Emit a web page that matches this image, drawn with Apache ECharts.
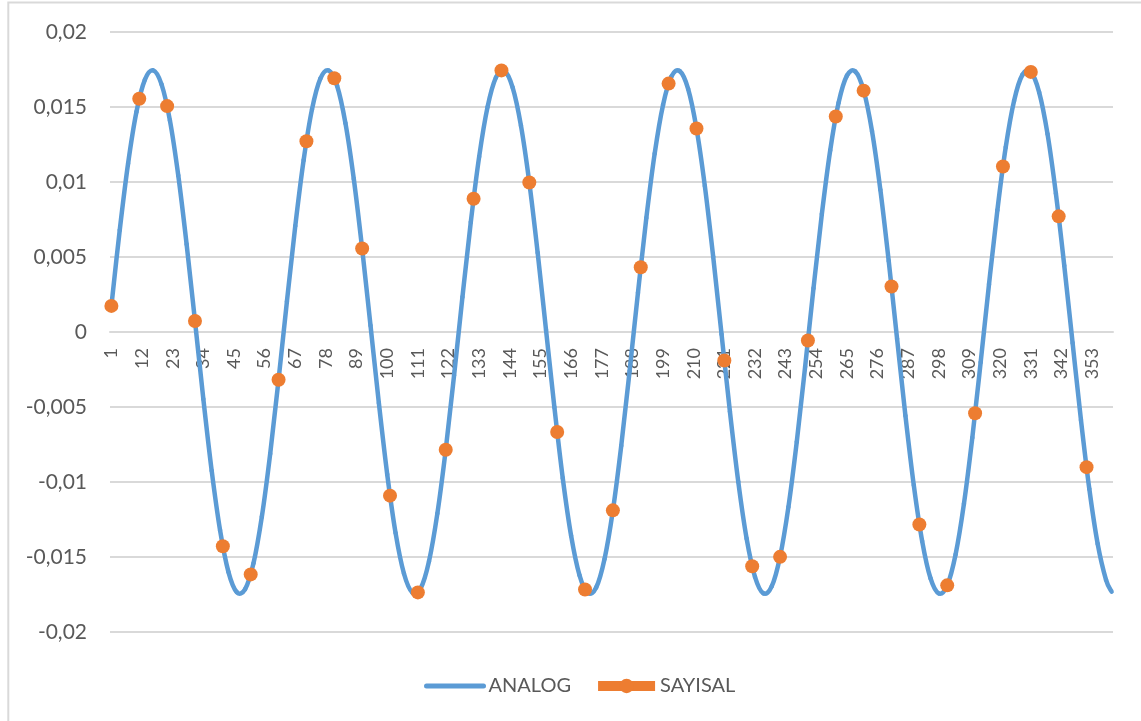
<!DOCTYPE html>
<html>
<head>
<meta charset="utf-8">
<script src="https://cdn.jsdelivr.net/npm/echarts@6/dist/echarts.min.js"></script>
<style>
  html, body { margin: 0; padding: 0; background: #ffffff; }
  #chart { width: 1141px; height: 721px; }
</style>
</head>
<body>
<div id="chart"></div>
<script>
// Sample index along the horizontal axis: 1 .. 360
const categories = [];
for (let i = 1; i <= 360; i++) categories.push(String(i));

// ANALOG curve, read every third sample (and the last one)
const analogCategories = [
  1, 4, 7, 10, 13, 16, 19, 22, 25, 28, 31, 34, 37, 40, 43, 46, 49, 52, 55, 58,
  61, 64, 67, 70, 73, 76, 79, 82, 85, 88, 91, 94, 97, 100, 103, 106, 109, 112, 115, 118,
  121, 124, 127, 130, 133, 136, 139, 142, 145, 148, 151, 154, 157, 160, 163, 166, 169, 172, 175, 178,
  181, 184, 187, 190, 193, 196, 199, 202, 205, 208, 211, 214, 217, 220, 223, 226, 229, 232, 235, 238,
  241, 244, 247, 250, 253, 256, 259, 262, 265, 268, 271, 274, 277, 280, 283, 286, 289, 292, 295, 298,
  301, 304, 307, 310, 313, 316, 319, 322, 325, 328, 331, 334, 337, 340, 343, 346, 349, 352, 355, 358,
  360
];
const analogValues = [
  0.00174, 0.00680, 0.01124, 0.01468, 0.01681, 0.01744, 0.01651, 0.01411, 0.01044, 0.00585,
  0.00073, -0.00446, -0.00925, -0.01321, -0.01599, -0.01734, -0.01714, -0.01542, -0.01231, -0.00811,
  -0.00318, 0.00203, 0.00707, 0.01146, 0.01484, 0.01689, 0.01743, 0.01642, 0.01393, 0.01021,
  0.00557, 0.00043, -0.00474, -0.00949, -0.01340, -0.01610, -0.01737, -0.01709, -0.01528, -0.01210,
  -0.00785, -0.00289, 0.00233, 0.00733, 0.01168, 0.01499, 0.01696, 0.01742, 0.01631, 0.01376,
  0.00997, 0.00529, 0.00014, -0.00502, -0.00974, -0.01358, -0.01621, -0.01740, -0.01703, -0.01513,
  -0.01189, -0.00758, -0.00260, 0.00262, 0.00760, 0.01190, 0.01514, 0.01703, 0.01739, 0.01621,
  0.01357, 0.00973, 0.00501, -0.00015, -0.00530, -0.00998, -0.01377, -0.01632, -0.01742, -0.01696,
  -0.01498, -0.01167, -0.00732, -0.00231, 0.00291, 0.00786, 0.01211, 0.01528, 0.01709, 0.01737,
  0.01610, 0.01339, 0.00948, 0.00473, -0.00045, -0.00558, -0.01022, -0.01394, -0.01642, -0.01743,
  -0.01689, -0.01483, -0.01145, -0.00705, -0.00202, 0.00319, 0.00812, 0.01232, 0.01542, 0.01715,
  0.01734, 0.01598, 0.01320, 0.00923, 0.00444, -0.00074, -0.00586, -0.01046, -0.01412, -0.01652,
  -0.01731
];

// SAYISAL samples, one every ten samples
const sampleCategories = [
  1, 11, 21, 31, 41, 51, 61, 71, 81, 91, 101, 111, 121, 131, 141, 151, 161, 171,
  181, 191, 201, 211, 221, 231, 241, 251, 261, 271, 281, 291, 301, 311, 321, 331, 341, 351
];
const sampleValues = [
  0.00174, 0.01555, 0.01506, 0.00073, -0.01428, -0.01616, -0.00318, 0.01272, 0.01692,
  0.00557, -0.01091, -0.01736, -0.00785, 0.00888, 0.01744, 0.00997, -0.00667, -0.01717,
  -0.01189, 0.00432, 0.01656, 0.01357, -0.00190, -0.01562, -0.01499, -0.00057, 0.01437,
  0.01609, 0.00303, -0.01283, -0.01689, -0.00542, 0.01103, 0.01734, 0.00771, -0.00901
];

// Value axis ticks
const yMin = -0.02;
const yMax = 0.02;
const yStep = 0.005;

const FONT = 'Lato';
const TEXT = '#595959';
const GRID = '#d9d9d9';
const BLUE = '#5B9BD5';
const ORANGE = '#ED7D31';
const PLOT_TOP = 32;
const PLOT_HEIGHT = 600;

function commaDecimal(v) {
  const r = Math.round(v * 1000) / 1000;
  return String(r).replace('.', ',');
}

const analogData = analogCategories.map((c, i) => [c - 1, analogValues[i]]);
const sampleData = sampleCategories.map((c, i) => [c - 1, sampleValues[i]]);

// Smooth curve through the ANALOG points: one Catmull-Rom segment per point pair,
// positioned with the chart's own coordinate conversion.
function renderAnalogSegment(params, api) {
  const i = params.dataIndex;
  const n = analogData.length;
  if (i >= n - 1) return null;
  const at = k => {
    const j = Math.max(0, Math.min(n - 1, k));
    return api.coord(analogData[j]);
  };
  const p0 = at(i - 1), p1 = at(i), p2 = at(i + 1), p3 = at(i + 2);
  return {
    type: 'bezierCurve',
    shape: {
      x1: p1[0], y1: p1[1],
      cpx1: p1[0] + (p2[0] - p0[0]) / 6, cpy1: p1[1] + (p2[1] - p0[1]) / 6,
      cpx2: p2[0] - (p3[0] - p1[0]) / 6, cpy2: p2[1] - (p3[1] - p1[1]) / 6,
      x2: p2[0], y2: p2[1]
    },
    style: { fill: 'none', stroke: BLUE, lineWidth: 4.5, lineCap: 'round', lineJoin: 'round' },
    silent: true
  };
}

const chart = echarts.init(document.getElementById('chart'), null, { renderer: 'canvas' });

chart.setOption({
  animation: false,
  backgroundColor: '#ffffff',
  graphic: [{
    type: 'rect',
    shape: { x: 8.3, y: 2.5, width: 1300, height: 900 },
    style: { fill: 'none', stroke: GRID, lineWidth: 2 },
    silent: true,
    z: -10
  }],
  grid: { left: 110, right: 28, top: PLOT_TOP, height: PLOT_HEIGHT, containLabel: false },
  xAxis: {
    type: 'category',
    data: categories,
    boundaryGap: true,
    // the category axis sits on the zero line, half way down the plot
    offset: -PLOT_HEIGHT / 2,
    axisLine: { show: true, onZero: false, lineStyle: { color: GRID, width: 2 } },
    axisTick: { show: false },
    splitLine: { show: false },
    axisLabel: {
      interval: 10,
      rotate: 90,
      margin: 16,
      color: TEXT,
      fontFamily: FONT,
      fontSize: 18,
      hideOverlap: false
    }
  },
  yAxis: {
    type: 'value',
    min: yMin,
    max: yMax,
    interval: yStep,
    axisLine: { show: false },
    axisTick: { show: false },
    splitLine: { show: true, lineStyle: { color: GRID, width: 2 } },
    axisLabel: {
      margin: 23,
      color: TEXT,
      fontFamily: FONT,
      fontSize: 21,
      formatter: commaDecimal
    }
  },
  legend: {
    left: 419,
    top: 671,
    itemWidth: 57,
    itemHeight: 18,
    itemGap: 22,
    textStyle: { fontFamily: FONT, fontSize: 20, color: TEXT },
    data: [
      {
        name: 'ANALOG',
        lineStyle: { color: BLUE, width: 5, cap: 'round', opacity: 1 },
        itemStyle: { opacity: 0, borderWidth: 0 }
      },
      {
        name: 'SAYISAL',
        lineStyle: { color: ORANGE, width: 10, opacity: 1 },
        itemStyle: { color: ORANGE, borderWidth: 0, opacity: 1 }
      }
    ]
  },
  series: [
    {
      // legend entry for the curve
      name: 'ANALOG',
      type: 'line',
      data: analogData,
      symbol: 'none',
      lineStyle: { color: BLUE, width: 4.5, opacity: 0 },
      itemStyle: { color: BLUE },
      silent: true,
      z: 1
    },
    {
      name: 'ANALOG',
      type: 'custom',
      coordinateSystem: 'cartesian2d',
      data: analogData,
      encode: { x: 0, y: 1 },
      renderItem: renderAnalogSegment,
      itemStyle: { color: BLUE },
      z: 2
    },
    {
      name: 'SAYISAL',
      type: 'line',
      data: sampleData,
      symbol: 'circle',
      symbolSize: 14,
      showSymbol: true,
      showAllSymbol: true,
      lineStyle: { width: 0, opacity: 0 },
      itemStyle: { color: ORANGE, borderWidth: 0 },
      z: 3
    }
  ]
});
</script>
</body>
</html>
